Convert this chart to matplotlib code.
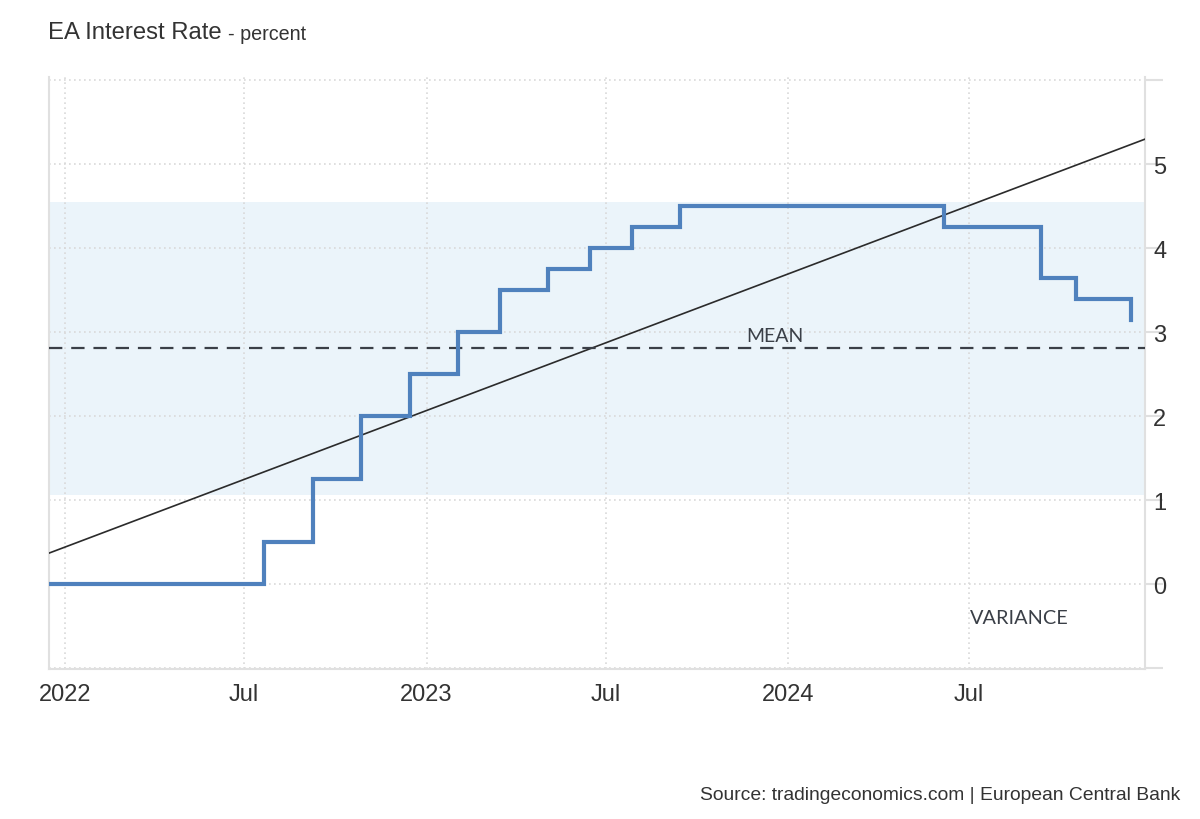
import numpy as np
import pandas as pd
import matplotlib
matplotlib.use("Agg")
import matplotlib.pyplot as plt
import matplotlib.dates as mdates

# rate decisions (main refinancing rate, percent)
dates = ["2021-12-16", "2022-07-21", "2022-09-08", "2022-10-27", "2022-12-15",
         "2023-02-02", "2023-03-16", "2023-05-04", "2023-06-15", "2023-07-27",
         "2023-09-14", "2024-06-06", "2024-09-12", "2024-10-17", "2024-12-12"]
rates = [0.0, 0.5, 1.25, 2.0, 2.5,
         3.0, 3.5, 3.75, 4.0, 4.25,
         4.5, 4.25, 3.65, 3.40, 3.15]

mean_value = 2.81
variance_low = 1.06
variance_high = 4.55
trend_start = 0.37
trend_end = 5.30

xticks = ["2022-01-01", "2022-07-01", "2023-01-01", "2023-07-01", "2024-01-01", "2024-07-01"]
xtick_labels = ["2022", "Jul", "2023", "Jul", "2024", "Jul"]
yticks = [-1, 0, 1, 2, 3, 4, 5, 6]
ytick_labels = ["", "0", "1", "2", "3", "4", "5", ""]

x = pd.to_datetime(dates)
x0 = pd.Timestamp("2021-12-16")
x1 = pd.Timestamp("2024-12-26")

plt.rcParams["font.family"] = ["Liberation Sans", "DejaVu Sans"]
fig = plt.figure(figsize=(12, 8.2), dpi=100)
ax = fig.add_axes([49 / 1200, 1 - 670 / 820, (1145 - 49) / 1200, (670 - 78) / 820])

ax.axhspan(variance_low, variance_high, color="#ebf4fa", zorder=0, lw=0)
ax.plot([x0, x1], [trend_start, trend_end], color="#2b2b2b", lw=1.2, zorder=3)
ax.axhline(mean_value, color="#3a3f47", lw=1.6, dashes=(6, 4), zorder=3)
ax.plot(x, rates, drawstyle="steps-post", color="#4f81bd", lw=3, zorder=4,
        solid_joinstyle="miter")

ax.text(pd.Timestamp("2023-12-18"), mean_value + 0.05, "MEAN", ha="center", va="bottom",
        fontsize=14, color="#3a3f47", family=["Lato", "DejaVu Sans"])
ax.text(pd.Timestamp("2024-07-02"), -0.40, "VARIANCE", ha="left", va="center",
        fontsize=14.3, color="#3a3f47", family=["Lato", "DejaVu Sans"])

ax.set_xlim(x0, x1)
ax.set_ylim(-1.01, 6.04)
ax.set_xticks(pd.to_datetime(xticks))
ax.set_xticklabels(xtick_labels)
ax.set_yticks(yticks)
ax.set_yticklabels(ytick_labels)
ax.yaxis.tick_right()
ax.grid(True, color="#d9d9d9", lw=1.2, ls=(0, (1, 2)))
ax.set_axisbelow(True)

ax.spines["top"].set_visible(False)
for s in ["left", "right", "bottom"]:
    ax.spines[s].set_color("#e0e0e0")
    ax.spines[s].set_linewidth(1.5)
ax.tick_params(axis="x", length=0, pad=10, labelsize=17, labelcolor="#333333")
ax.tick_params(axis="y", length=13, width=1.5, color="#e0e0e0", pad=-7,
               labelsize=17, labelcolor="#333333")

fig.text(48 / 1200, 1 - 33 / 820, "EA Interest Rate", fontsize=17.2, color="#333333",
         va="center", ha="left")
fig.text(228 / 1200, 1 - 34 / 820, "- percent", fontsize=14.2, color="#333333",
         va="center", ha="left")
fig.text(1180 / 1200, 1 - 796 / 820, "Source: tradingeconomics.com | European Central Bank",
         fontsize=13.9, color="#333333", va="center", ha="right")

fig.savefig("out.png", dpi=100)
